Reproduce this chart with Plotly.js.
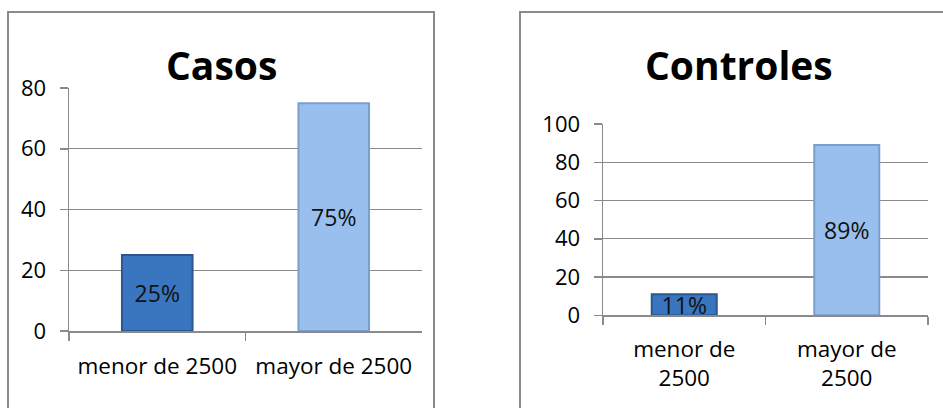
<!DOCTYPE html>
<html>
<head>
<meta charset="utf-8">
<script src="https://cdn.plot.ly/plotly-3.0.1.min.js"></script>
<style>
html,body{margin:0;padding:0;background:#fff;}
#chart{width:943px;height:408px;}
</style>
</head>
<body>
<div id="chart"></div>
<script>
// Data
const casosCategories = ["menor de 2500", "mayor de 2500"];
const casosValues = [25, 75];
const casosLabels = ["25%", "75%"];

const controlesCategories = ["menor de<br>2500", "mayor de<br>2500"];
const controlesValues = [11, 89];
const controlesLabels = ["11%", "89%"];

const barColors = ["#3a76c0", "#98bfee"];
const barEdges = ["#2a5792", "#7a9fcc"];

const FONT = "Open Sans, Noto Sans, sans-serif";
const GRID = "#8a8a8a";

const traces = [
  {
    type: "bar", x: casosCategories, y: casosValues, text: casosLabels,
    textposition: "inside", insidetextanchor: "middle", constraintext: "none",
    textfont: {family: FONT, size: 23, color: "#111"},
    marker: {color: barColors, line: {color: barEdges, width: 2}},
    xaxis: "x", yaxis: "y", hoverinfo: "none", cliponaxis: false
  },
  {
    type: "bar", x: controlesCategories, y: controlesValues, text: controlesLabels,
    textposition: "inside", insidetextanchor: "middle", constraintext: "none",
    textfont: {family: FONT, size: 23, color: "#111"},
    marker: {color: barColors, line: {color: barEdges, width: 2}},
    xaxis: "x2", yaxis: "y2", hoverinfo: "none", cliponaxis: false
  }
];

const W = 943, H = 408;
const px = v => v / W;
const py = v => 1 - v / H;

const yaxisCommon = {
  showgrid: true, gridcolor: GRID, gridwidth: 1.3,
  showline: true, linecolor: GRID, linewidth: 1.5,
  ticks: "outside", ticklen: 8, tickcolor: GRID, tickwidth: 1.5,
  dtick: 20, tick0: 0, zeroline: false,
  tickfont: {family: FONT, size: 22, color: "#000"},
  ticklabelstandoff: 9, fixedrange: true
};
const xaxisCommon = {
  type: "category", showline: true, linecolor: GRID, linewidth: 1.5,
  ticks: "outside", ticklen: 8, tickcolor: GRID, tickwidth: 1.5,
  tickson: "boundaries", showgrid: false, zeroline: false,
  tickfont: {family: FONT, size: 22.5, color: "#000"},
  ticklabelstandoff: 14, fixedrange: true
};

const layout = {
  width: W, height: H,
  margin: {l: 0, r: 0, t: 0, b: 0},
  paper_bgcolor: "#fff", plot_bgcolor: "#fff",
  showlegend: false, bargap: 0.6,
  xaxis: Object.assign({}, xaxisCommon, {domain: [px(69), px(422)], anchor: "y"}),
  yaxis: Object.assign({}, yaxisCommon, {domain: [py(331), py(88)], range: [0, 80], anchor: "x"}),
  xaxis2: Object.assign({}, xaxisCommon, {domain: [px(603), px(928)], anchor: "y2", ticklabelstandoff: 13}),
  yaxis2: Object.assign({}, yaxisCommon, {domain: [py(315.3), py(124)], range: [0, 100], anchor: "x2"}),
  annotations: [
    {text: "<b>Casos</b>", xref: "paper", yref: "paper", x: px(221), y: py(64),
     xanchor: "center", yanchor: "middle", showarrow: false,
     font: {family: FONT, size: 39, color: "#000"}},
    {text: "<b>Controles</b>", xref: "paper", yref: "paper", x: px(739), y: py(64),
     xanchor: "center", yanchor: "middle", showarrow: false,
     font: {family: FONT, size: 39, color: "#000"}}
  ],
  shapes: [
    {type: "rect", xref: "paper", yref: "paper", x0: px(8), x1: px(434), y0: -0.05, y1: py(12),
     line: {color: GRID, width: 2}, fillcolor: "rgba(0,0,0,0)", layer: "below"},
    {type: "rect", xref: "paper", yref: "paper", x0: px(520), x1: 1.05, y0: -0.05, y1: py(12),
     line: {color: GRID, width: 2}, fillcolor: "rgba(0,0,0,0)", layer: "below"}
  ]
};

Plotly.newPlot("chart", traces, layout, {displayModeBar: false, staticPlot: true});
</script>
</body>
</html>
